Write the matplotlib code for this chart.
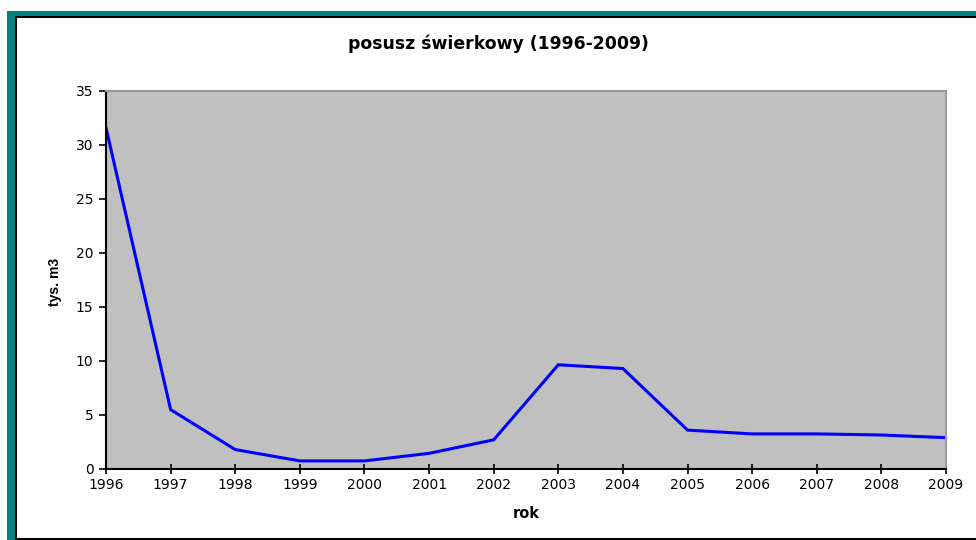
import matplotlib
matplotlib.use("Agg")
import matplotlib.pyplot as plt
from matplotlib.patches import Rectangle

# ── data ────────────────────────────────────────────
years  = [1996, 1997, 1998, 1999, 2000, 2001, 2002, 2003, 2004, 2005, 2006, 2007, 2008, 2009]
values = [31.6, 5.5, 1.8, 0.75, 0.75, 1.45, 2.7, 9.65, 9.3, 3.6, 3.25, 3.25, 3.15, 2.9]
y_ticks = [0, 5, 10, 15, 20, 25, 30, 35]

W, H = 976, 540
plt.rcParams["font.family"] = ["DejaVu Sans"]

fig = plt.figure(figsize=(W / 100, H / 100), dpi=100)

# frame: teal band on top/left, black edge inside
def px_rect(x0, y0, x1, y1, color):
    fig.patches.append(Rectangle((x0 / W, 1 - y1 / H), (x1 - x0) / W, (y1 - y0) / H,
                                 transform=fig.transFigure, facecolor=color,
                                 linewidth=0, zorder=0))

px_rect(7, 11, W, 16, "#008080")
px_rect(7, 11, 15, H, "#008080")
px_rect(15, 16, W, 18, "#000000")
px_rect(15, 16, 17, H, "#000000")
px_rect(15, 538, W, H, "#000000")

ax = fig.add_axes([106 / W, 1 - 469 / H, (946 - 106) / W, (469 - 91) / H])
ax.set_facecolor("#C0C0C0")
ax.plot(years, values, color="#0000FF", linewidth=2.2, solid_joinstyle="miter")

ax.set_xlim(1996, 2009)
ax.set_ylim(0, 35)
ax.set_xticks(years)
ax.set_yticks(y_ticks)
ax.tick_params(axis="x", direction="inout", length=7, width=1.2, labelsize=10, pad=3)
ax.tick_params(axis="y", direction="out", length=5, width=1.2, labelsize=10, pad=4)

for s in ["left", "bottom"]:
    ax.spines[s].set_color("#000000")
    ax.spines[s].set_linewidth(1.5)
for s in ["top", "right"]:
    ax.spines[s].set_color("#999999")
    ax.spines[s].set_linewidth(1.5)

fig.text(498 / W, 1 - 44 / H, "posusz świerkowy (1996-2009)", ha="center", va="center",
         fontsize=12.4, fontweight="bold")
fig.text(526 / W, 1 - 513 / H, "rok", ha="center", va="center",
         fontsize=10.5, fontweight="bold")
fig.text(55 / W, 1 - 282 / H, "tys. m3", ha="center", va="center", rotation=90,
         fontsize=10, fontweight="bold", family=["Liberation Sans", "DejaVu Sans"])

fig.savefig("out.png", dpi=100)
